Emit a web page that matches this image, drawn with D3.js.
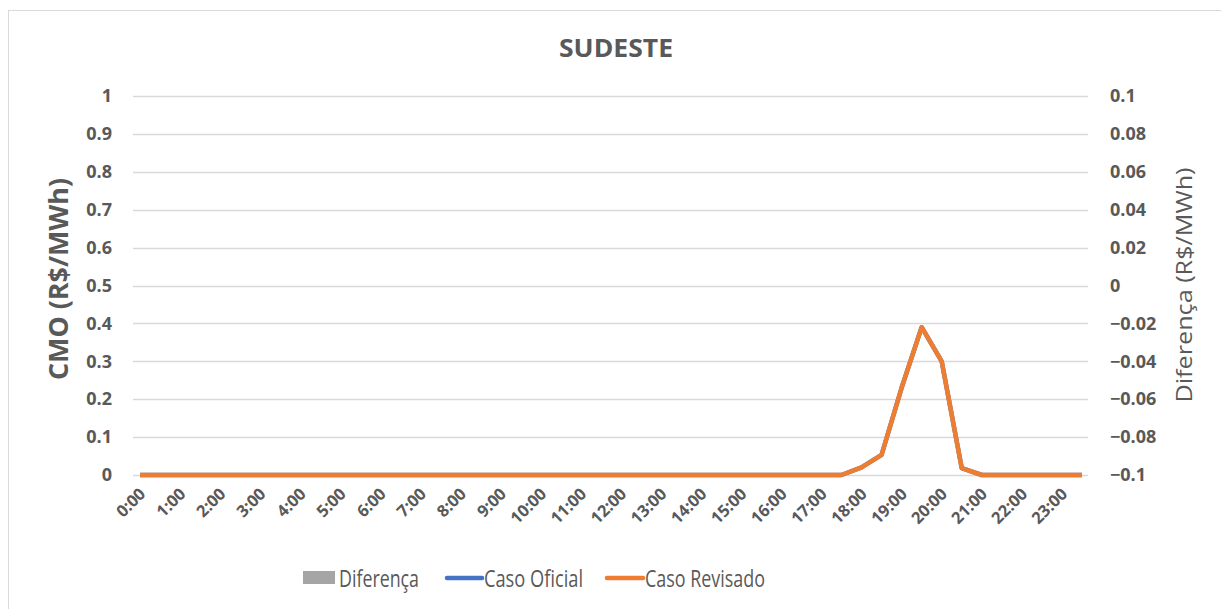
<!DOCTYPE html>
<html><head><meta charset="utf-8">
<script src="https://cdn.jsdelivr.net/npm/d3@7"></script>
<style>html,body{margin:0;padding:0;background:#fff;}svg{display:block;}</style>
</head><body>
<svg id="c" width="1221" height="609"></svg>
<script>
const categories = ["0:00","0:30","1:00","1:30","2:00","2:30","3:00","3:30","4:00","4:30","5:00","5:30","6:00","6:30","7:00","7:30","8:00","8:30","9:00","9:30","10:00","10:30","11:00","11:30","12:00","12:30","13:00","13:30","14:00","14:30","15:00","15:30","16:00","16:30","17:00","17:30","18:00","18:30","19:00","19:30","20:00","20:30","21:00","21:30","22:00","22:30","23:00","23:30"];
const tickLabels = ["0:00","1:00","2:00","3:00","4:00","5:00","6:00","7:00","8:00","9:00","10:00","11:00","12:00","13:00","14:00","15:00","16:00","17:00","18:00","19:00","20:00","21:00","22:00","23:00"];
const casoOficial  = [0,0,0,0,0,0,0,0,0,0,0,0,0,0,0,0,0,0,0,0,0,0,0,0,0,0,0,0,0,0,0,0,0,0,0,0,0.02,0.053,0.23,0.39,0.30,0.018,0,0,0,0,0,0];
const casoRevisado = [0,0,0,0,0,0,0,0,0,0,0,0,0,0,0,0,0,0,0,0,0,0,0,0,0,0,0,0,0,0,0,0,0,0,0,0,0.02,0.053,0.23,0.39,0.30,0.018,0,0,0,0,0,0];
const diferenca    = [0,0,0,0,0,0,0,0,0,0,0,0,0,0,0,0,0,0,0,0,0,0,0,0,0,0,0,0,0,0,0,0,0,0,0,0,0,0,0,0,0,0,0,0,0,0,0,0];
const leftTicks  = [0,0.1,0.2,0.3,0.4,0.5,0.6,0.7,0.8,0.9,1];
const rightTicks = [-0.1,-0.08,-0.06,-0.04,-0.02,0,0.02,0.04,0.06,0.08,0.1];
const seriesNames = ["Diferença","Caso Oficial","Caso Revisado"];

const svg = d3.select("#c");
const txt = "#595959", font = "'Open Sans', sans-serif";
const plotL = 133, plotR = 1088, plotT = 96, plotB = 475;

svg.append("rect").attr("x",8.5).attr("y",10.5).attr("width",1230).attr("height",620)
  .attr("fill","#fff").attr("stroke","#d9d9d9").attr("stroke-width",1);

const x = d3.scalePoint().domain(categories).range([140,1082]);
const yL = d3.scaleLinear().domain([0,1]).range([plotB,plotT]);
const yR = d3.scaleLinear().domain([-0.1,0.1]).range([plotB,plotT]);

// grid
svg.append("g").selectAll("line").data(leftTicks).join("line")
  .attr("x1",plotL).attr("x2",plotR).attr("y1",d=>Math.round(yL(d))+0.5).attr("y2",d=>Math.round(yL(d))+0.5)
  .attr("stroke","#d9d9d9").attr("stroke-width",1.3);

// left axis
const gL = svg.append("g").attr("transform",`translate(${plotL},0)`)
  .call(d3.axisLeft(yL).tickValues(leftTicks).tickSize(0).tickPadding(21).tickFormat(d=>d3.format("~g")(d)));
gL.select(".domain").remove();
gL.selectAll("text").attr("fill",txt).attr("font-family",font).attr("font-weight","bold").attr("font-size","18px");

// right axis
const gR = svg.append("g").attr("transform",`translate(${plotR},0)`)
  .call(d3.axisRight(yR).tickValues(rightTicks).tickSize(0).tickPadding(22).tickFormat(d=>d3.format("~g")(d)));
gR.select(".domain").remove();
gR.selectAll("text").attr("fill",txt).attr("font-family",font).attr("font-weight","bold").attr("font-size","18px");

// x axis
const gX = svg.append("g").attr("transform",`translate(0,${plotB})`)
  .call(d3.axisBottom(x).tickValues(tickLabels).tickSize(0).tickPadding(0));
gX.select(".domain").remove();
gX.selectAll("text").attr("fill",txt).attr("font-family",font).attr("font-weight","bold").attr("font-size","16.5px")
  .attr("text-anchor","end").attr("dy",0).attr("y",0)
  .attr("transform","translate(6,20) rotate(-45)");

// bars (diferenca)
const bw = 10;
svg.append("g").selectAll("rect").data(diferenca).join("rect")
  .attr("x",(d,i)=>x(categories[i])-bw/2).attr("width",bw)
  .attr("y",d=>Math.min(yR(d),yR(0))).attr("height",d=>Math.abs(yR(d)-yR(0)))
  .attr("fill","#A5A5A5");

const line = d3.line().x((d,i)=>x(categories[i])).y(d=>yL(d));
svg.append("path").datum(casoOficial).attr("d",line).attr("fill","none")
  .attr("stroke","#4472C4").attr("stroke-width",4.5).attr("stroke-linejoin","round");
svg.append("path").datum(casoRevisado).attr("d",line).attr("fill","none")
  .attr("stroke","#ED7D31").attr("stroke-width",4.5).attr("stroke-linejoin","round");

// title
svg.append("text").attr("x",616).attr("y",57).attr("text-anchor","middle")
  .attr("fill",txt).attr("font-family",font).attr("font-weight","bold").attr("font-size","25px")
  .attr("textLength",114).attr("lengthAdjust","spacingAndGlyphs").text("SUDESTE");

// axis titles
svg.append("text").attr("transform","translate(68,279) rotate(-90)").attr("text-anchor","middle")
  .attr("fill",txt).attr("font-family",font).attr("font-weight","bold").attr("font-size","27px")
  .attr("textLength",202).attr("lengthAdjust","spacingAndGlyphs").text("CMO (R$/MWh)");
svg.append("text").attr("transform","translate(1192,285) rotate(-90)").attr("text-anchor","middle")
  .attr("fill",txt).attr("font-family",font).attr("font-size","21px")
  .attr("textLength",235).attr("lengthAdjust","spacingAndGlyphs").text("Diferença (R$/MWh)");

// legend
const lg = svg.append("g");
const ly = 578;
lg.append("rect").attr("x",303).attr("y",571).attr("width",32).attr("height",13).attr("fill","#A5A5A5");
lg.append("text").attr("x",339).attr("y",ly+9).attr("fill",txt).attr("font-family",font).attr("font-size","24px")
  .attr("textLength",80).attr("lengthAdjust","spacingAndGlyphs").text(seriesNames[0]);
lg.append("line").attr("x1",447).attr("x2",482).attr("y1",ly).attr("y2",ly).attr("stroke","#4472C4").attr("stroke-width",4.5).attr("stroke-linecap","round");
lg.append("text").attr("x",484).attr("y",ly+9).attr("fill",txt).attr("font-family",font).attr("font-size","24px")
  .attr("textLength",99).attr("lengthAdjust","spacingAndGlyphs").text(seriesNames[1]);
lg.append("line").attr("x1",607).attr("x2",643).attr("y1",ly).attr("y2",ly).attr("stroke","#ED7D31").attr("stroke-width",4.5).attr("stroke-linecap","round");
lg.append("text").attr("x",645).attr("y",ly+9).attr("fill",txt).attr("font-family",font).attr("font-size","24px")
  .attr("textLength",120).attr("lengthAdjust","spacingAndGlyphs").text(seriesNames[2]);
</script>
</body></html>
